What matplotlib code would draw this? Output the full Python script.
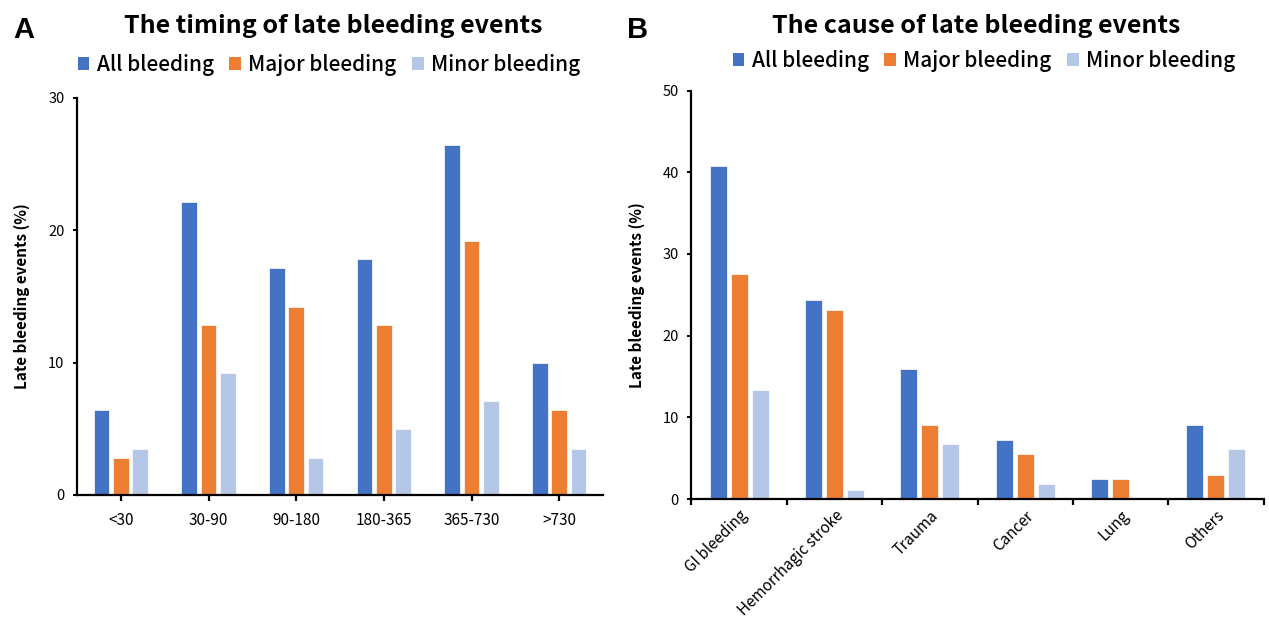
import matplotlib
matplotlib.use("Agg")
import matplotlib.pyplot as plt
from matplotlib.patches import Patch
import numpy as np

plt.rcParams['font.family'] = ['Noto Sans CJK JP', 'DejaVu Sans']

series = ["All bleeding", "Major bleeding", "Minor bleeding"]
colors = ["#4472C4", "#ED7D31", "#B4C7E7"]

timing_cats = ["<30", "30-90", "90-180", "180-365", "365-730", ">730"]
timing_all = [6.4, 22.1, 17.1, 17.8, 26.4, 10.0]
timing_major = [2.8, 12.8, 14.2, 12.8, 19.2, 6.4]
timing_minor = [3.5, 9.2, 2.8, 5.0, 7.1, 3.5]

cause_cats = ["GI bleeding", "Hemorrhagic stroke", "Trauma", "Cancer", "Lung", "Others"]
cause_all = [40.8, 24.4, 15.9, 7.2, 2.4, 9.1]
cause_major = [27.5, 23.1, 9.1, 5.5, 2.4, 3.0]
cause_minor = [13.4, 1.1, 6.7, 1.8, 0.0, 6.1]

fig = plt.figure(figsize=(12.69, 6.22), dpi=100)
axA = fig.add_axes([0.0607, 0.2042, 0.4145, 0.639])
axB = fig.add_axes([0.5449, 0.1977, 0.4508, 0.6568])


def draw_bars(ax, cats, data, ymax):
    x = np.arange(len(cats))
    for i, (vals, c) in enumerate(zip(data, colors)):
        ax.bar(x + (i - 1) * 0.22, vals, width=0.18, color=c,
               edgecolor="white", linewidth=0.5, zorder=2)
    ax.set_xlim(-0.5, len(cats) - 0.5)
    ax.set_ylim(0, ymax)
    ax.set_yticks(np.arange(0, ymax + 1, 10))
    for s in ["top", "right"]:
        ax.spines[s].set_visible(False)
    for s in ["left", "bottom"]:
        ax.spines[s].set_linewidth(1.6)
    ax.tick_params(axis="y", direction="out", length=3, width=1.4,
                   labelsize=10.5, pad=6)
    ax.set_ylabel("Late bleeding events (%)", fontsize=11,
                  fontweight="bold", labelpad=13)
    return x


x = draw_bars(axA, timing_cats, [timing_all, timing_major, timing_minor], 30)
axA.set_xticks(x)
axA.set_xticklabels(timing_cats)
axA.tick_params(axis="x", direction="out", length=4, width=1.6,
                labelsize=11, pad=8)

x = draw_bars(axB, cause_cats, [cause_all, cause_major, cause_minor], 50)
axB.set_xticks(x)
axB.set_xticklabels(cause_cats, rotation=45, ha="right", va="top",
                    rotation_mode="anchor")
axB.set_xticks(np.arange(-0.5, len(cause_cats)), minor=True)
axB.tick_params(axis="x", which="major", length=0, labelsize=11, pad=6)
axB.tick_params(axis="x", which="minor", direction="out", length=4, width=1.6)

fig.text(0.263, 0.947, "The timing of late bleeding events", ha="center",
         va="baseline", fontsize=18, fontweight="bold")
fig.text(0.769, 0.947, "The cause of late bleeding events", ha="center",
         va="baseline", fontsize=18, fontweight="bold")
fig.text(0.0102, 0.939, "A", ha="left", va="baseline", fontsize=21,
         fontweight="bold", family="Liberation Sans")
fig.text(0.494, 0.939, "B", ha="left", va="baseline", fontsize=21,
         fontweight="bold", family="Liberation Sans")

handles = [Patch(facecolor=c, edgecolor="none") for c in colors]
for cx, cy in [(0.2593, 0.8955), (0.7754, 0.902)]:
    fig.legend(handles, series, loc="center", bbox_to_anchor=(cx, cy),
               ncol=3, frameon=False, fontsize=15, handlelength=0.55,
               handleheight=0.55, handletextpad=0.35, columnspacing=0.75,
               borderaxespad=0, borderpad=0,
               prop={"weight": "medium", "size": 15})

fig.savefig("out.png", dpi=100)
